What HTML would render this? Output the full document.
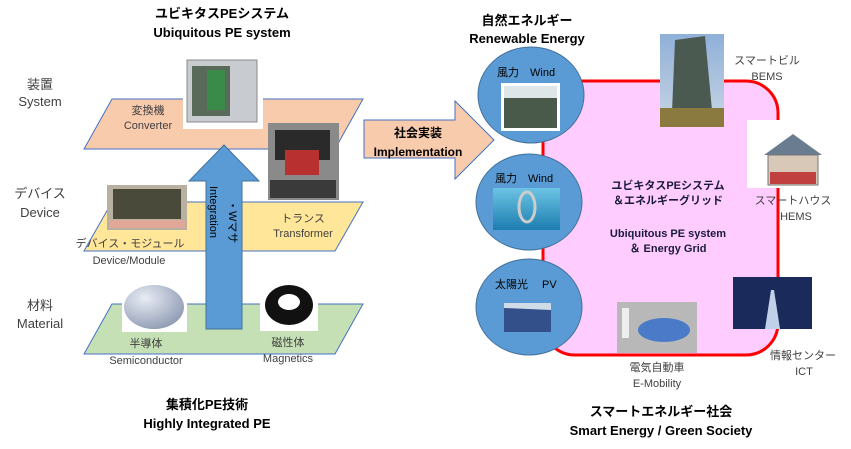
<!DOCTYPE html>
<html><head><meta charset="utf-8"><style>
html,body{margin:0;padding:0;background:#fff;}
svg{display:block;font-family:"Liberation Sans","Noto Sans CJK JP",sans-serif;}
</style></head><body>
<svg width="851" height="449" viewBox="0 0 851 449" xmlns="http://www.w3.org/2000/svg">
<defs>
<linearGradient id="sky" x1="0" y1="0" x2="0" y2="1"><stop offset="0" stop-color="#8fb0d8"/><stop offset="1" stop-color="#c9d6e4"/></linearGradient>
<radialGradient id="wafer" cx="0.35" cy="0.3" r="0.8"><stop offset="0" stop-color="#e8ecf4"/><stop offset="1" stop-color="#8a96b0"/></radialGradient>
<linearGradient id="sea" x1="0" y1="0" x2="0" y2="1"><stop offset="0" stop-color="#6cc4e4"/><stop offset="1" stop-color="#1d7db0"/></linearGradient>
</defs>
<g font-size="13" font-weight="bold" fill="#000" text-anchor="middle">
<text x="222" y="18">ユビキタスPEシステム</text>
<text x="222" y="37">Ubiquitous PE system</text>
<text x="207" y="409">集積化PE技術</text>
<text x="207" y="428">Highly Integrated PE</text>
<text x="527" y="25">自然エネルギー</text>
<text x="527" y="43">Renewable Energy</text>
<text x="661" y="416">スマートエネルギー社会</text>
<text x="661" y="435">Smart Energy / Green Society</text>
</g>
<g font-size="13" fill="#404040" text-anchor="middle">
<text x="40" y="89">装置</text><text x="40" y="106">System</text>
<text x="40" y="198">デバイス</text><text x="40" y="217">Device</text>
<text x="40" y="310">材料</text><text x="40" y="328">Material</text>
</g>
<polygon points="112,99 363,99 335,149 84,149" fill="#f8cbad" stroke="#4472c4" stroke-width="1"/>
<polygon points="112,202 363,202 335,251 84,251" fill="#ffe699" stroke="#4472c4" stroke-width="1"/>
<polygon points="112,304 363,304 335,354 84,354" fill="#c5e0b4" stroke="#4472c4" stroke-width="1"/>
<!-- converter -->
<rect x="183" y="54" width="80" height="75" fill="#fff"/>
<rect x="187" y="60" width="70" height="62" fill="#c8ccd0" stroke="#888"/>
<rect x="192" y="66" width="38" height="50" fill="#5a6a5a"/>
<rect x="207" y="70" width="18" height="40" fill="#3a8a4a"/>
<!-- transformer -->
<rect x="268" y="123" width="71" height="77" fill="#8a8a8a"/>
<rect x="275" y="130" width="55" height="30" fill="#2a2a2a"/>
<rect x="285" y="150" width="34" height="25" fill="#b83030"/>
<rect x="270" y="180" width="66" height="18" fill="#3a3a3a"/>
<!-- device module -->
<rect x="107" y="185" width="80" height="45" fill="#b8b0a0"/>
<rect x="113" y="189" width="68" height="30" fill="#4a4a3a"/>
<rect x="109" y="220" width="76" height="8" fill="#e0a898"/>
<!-- wafer / ferrite -->
<rect x="122" y="285" width="65" height="47" fill="#fff"/>
<ellipse cx="154" cy="307" rx="30" ry="22" fill="url(#wafer)"/>
<rect x="260" y="284" width="58" height="47" fill="#fff"/>
<ellipse cx="289" cy="305" rx="24" ry="20" fill="#111"/>
<ellipse cx="289" cy="302" rx="11" ry="8" fill="#fff"/>
<g font-size="11" fill="#404040" text-anchor="middle">
<text x="148" y="114">変換機</text><text x="148" y="129">Converter</text>
<text x="303" y="222">トランス</text><text x="303" y="237">Transformer</text>
<text x="130" y="247">デバイス・モジュール</text><text x="129" y="264">Device/Module</text>
<text x="146" y="347">半導体</text><text x="146" y="364">Semiconductor</text>
<text x="288" y="346">磁性体</text><text x="288" y="362">Magnetics</text>
</g>
<!-- integration arrow -->
<polygon points="206,329 242,329 242,181 259,181 224,145 189,181 206,181" fill="#5b9bd5" stroke="#41719c" stroke-width="1"/>
<text x="0" y="0" font-size="11" fill="#000" transform="translate(210,186) rotate(90)">Integration</text>
<text x="0" y="0" font-size="11" fill="#000" transform="translate(229,200) rotate(90)">・Wマサ</text>
<!-- implementation arrow -->
<polygon points="364,120 455,120 455,101 494,140 455,179 455,158 364,158" fill="#f8cbad" stroke="#4472c4" stroke-width="1"/>
<g font-size="12" font-weight="bold" fill="#000" text-anchor="middle">
<text x="418" y="137">社会実装</text><text x="418" y="156">Implementation</text>
</g>
<!-- pink grid -->
<rect x="543" y="81" width="235" height="274" rx="32" fill="#ffccff" stroke="#ff0000" stroke-width="3"/>
<g fill="#5b9bd5" stroke="#41719c" stroke-width="1">
<ellipse cx="531" cy="95" rx="53" ry="48"/>
<ellipse cx="529" cy="202" rx="53" ry="48"/>
<ellipse cx="529" cy="307" rx="53" ry="48"/>
</g>
<g font-size="11" fill="#000">
<text x="497" y="76">風力　Wind</text>
<text x="495" y="182">風力　Wind</text>
<text x="495" y="288">太陽光　 PV</text>
</g>
<rect x="501" y="83" width="59" height="48" fill="#fff"/>
<rect x="504" y="86" width="53" height="42" fill="#4a5a4a"/>
<rect x="504" y="86" width="53" height="12" fill="#dfe6e8"/>
<rect x="493" y="188" width="67" height="42" fill="url(#sea)"/>
<ellipse cx="527" cy="207" rx="8" ry="15" fill="none" stroke="#ccc" stroke-width="3"/>
<rect x="504" y="303" width="47" height="29" fill="#34508a"/>
<polygon points="504,303 551,303 551,310 504,308" fill="#cfdbe6"/>
<g font-size="11" font-weight="bold" fill="#1a1a40" text-anchor="middle">
<text x="668" y="189">ユビキタスPEシステム</text>
<text x="668" y="204">＆エネルギーグリッド</text>
<text x="668" y="237">Ubiquitous PE system</text>
<text x="668" y="252">＆ Energy Grid</text>
</g>
<!-- building -->
<rect x="660" y="34" width="64" height="93" fill="url(#sky)"/>
<polygon points="675,40 705,36 712,110 672,112" fill="#4a5a50"/>
<rect x="660" y="108" width="64" height="19" fill="#8a7a40"/>
<!-- house -->
<rect x="747" y="120" width="93" height="68" fill="#fff"/>
<polygon points="764,155 793,134 822,155" fill="#6a7c90"/>
<rect x="768" y="155" width="50" height="30" fill="#d8c8b8" stroke="#777"/>
<rect x="770" y="172" width="46" height="12" fill="#c04040"/>
<!-- ICT -->
<rect x="733" y="277" width="79" height="52" fill="#1a2a5a"/>
<polygon points="765,329 780,329 774,290 771,290" fill="#c0d0e8"/>
<!-- EV -->
<rect x="617" y="302" width="80" height="51" fill="#b8b8b8"/>
<ellipse cx="664" cy="330" rx="26" ry="12" fill="#4a7ac8"/>
<rect x="622" y="308" width="7" height="30" fill="#eee"/>
<g font-size="11" fill="#404040" text-anchor="middle">
<text x="767" y="64">スマートビル</text><text x="767" y="80">BEMS</text>
<text x="793" y="204">スマートハウス</text><text x="796" y="220">HEMS</text>
<text x="803" y="359">情報センター</text><text x="804" y="375">ICT</text>
<text x="657" y="371">電気自動車</text><text x="657" y="387">E-Mobility</text>
</g>
</svg>
</body></html>
